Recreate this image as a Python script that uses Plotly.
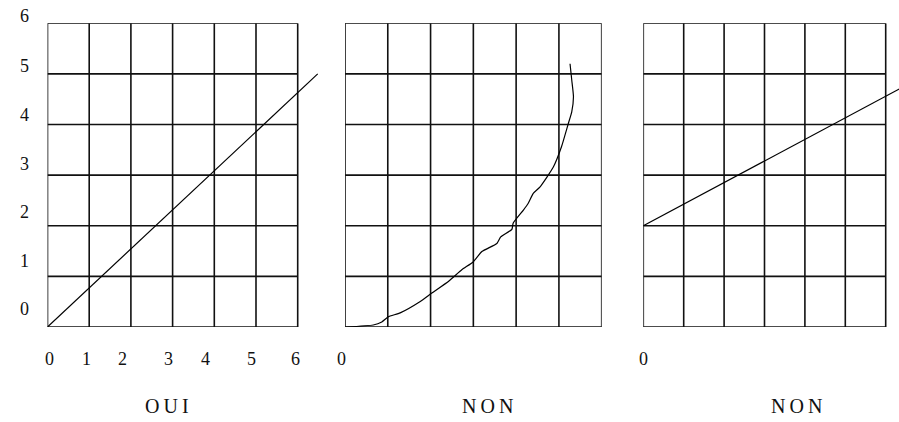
import plotly.graph_objects as go

# ---------------- data ----------------
grid_ticks = [0, 1, 2, 3, 4, 5, 6]

# panel 1 (OUI): straight line through origin
p1_x = [0, 6.48]
p1_y = [0, 5.0]

# panel 2 (NON): curved line
p2_x = [0.02, 0.66, 0.86, 1.01, 1.29, 1.75, 2.03, 2.43, 2.73, 3.00, 3.20, 3.55, 3.64,
        3.90, 3.93, 4.17, 4.28, 4.40, 4.56, 4.87, 5.06, 5.22, 5.30, 5.34, 5.30, 5.26]
p2_y = [0.00, 0.04, 0.10, 0.20, 0.28, 0.50, 0.67, 0.91, 1.13, 1.29, 1.49, 1.65, 1.78,
        1.93, 2.05, 2.31, 2.44, 2.64, 2.77, 3.16, 3.56, 4.02, 4.25, 4.55, 4.88, 5.20]

# panel 3 (NON): straight line with intercept 2
p3_x = [0, 6.4]
p3_y = [2.0, 4.73]

# tick labels
y_tick_text = ["0", "1", "2", "3", "4", "5", "6"]
y_tick_pos = [0.36, 1.30, 2.27, 3.22, 4.19, 5.16, 6.15]
x_tick_text = ["0", "1", "2", "3", "4", "5", "6"]
x_tick_pos = [0.04, 0.93, 1.81, 2.89, 3.78, 4.90, 5.94]
panel_titles = ["OUI", "NON", "NON"]

# ---------------- figure ----------------
W, H = 899, 422
fig = go.Figure()

def grid_trace(xa, ya):
    xs, ys = [], []
    lo, hi = grid_ticks[0], grid_ticks[-1]
    for t in grid_ticks:
        xs += [t, t, None]
        ys += [lo, hi, None]
        xs += [lo, hi, None]
        ys += [t, t, None]
    return go.Scatter(x=xs, y=ys, mode="lines", xaxis=xa, yaxis=ya,
                      line=dict(color="#111111", width=1.6),
                      hoverinfo="skip", showlegend=False)

curve_line = dict(color="#000000", width=1.2)
panels = [("x", "y", p1_x, p1_y, "linear"),
          ("x2", "y2", p2_x, p2_y, "spline"),
          ("x3", "y3", p3_x, p3_y, "linear")]
for xa, ya, xs, ys, shape in panels:
    fig.add_trace(grid_trace(xa, ya))
    ln = dict(curve_line)
    if shape == "spline":
        ln["shape"] = "spline"
        ln["smoothing"] = 0.5
    fig.add_trace(go.Scatter(x=xs, y=ys, mode="lines", xaxis=xa, yaxis=ya,
                             line=ln, hoverinfo="skip", showlegend=False))

ydom = [(H - 327) / H, (H - 23.3) / H]
yrange = [0, 6]
x1dom, x1range = [47.5 / W, (47.5 + 6.5 * 41.7) / W], [0, 6.5]
x2dom, x2range = [345 / W, 601.7 / W], [0, 6]
x3dom, x3range = [643.3 / W, 1.0], [0, (899 - 643.3) / 40.4]

ax_common = dict(visible=False, showgrid=False, zeroline=False, fixedrange=True)
fig.update_layout(
    width=W, height=H,
    margin=dict(l=0, r=0, t=0, b=0),
    paper_bgcolor="white", plot_bgcolor="white",
    showlegend=False,
    xaxis=dict(domain=x1dom, range=x1range, **ax_common),
    yaxis=dict(domain=ydom, range=yrange, anchor="x", **ax_common),
    xaxis2=dict(domain=x2dom, range=x2range, anchor="y2", **ax_common),
    yaxis2=dict(domain=ydom, range=yrange, anchor="x2", **ax_common),
    xaxis3=dict(domain=x3dom, range=x3range, anchor="y3", **ax_common),
    yaxis3=dict(domain=ydom, range=yrange, anchor="x3", **ax_common),
)

def to_paper(v, dom, rng):
    return dom[0] + (v - rng[0]) / (rng[1] - rng[0]) * (dom[1] - dom[0])

font = dict(family="Liberation Serif, Times New Roman, serif", size=18, color="#111111")
ann = []
for t, p in zip(y_tick_text, y_tick_pos):
    ann.append(dict(text=t, x=24 / W, xref="paper", y=to_paper(p, ydom, yrange), yref="paper",
                    showarrow=False, xanchor="center", yanchor="middle", font=font))
xlab_y = (H - 359) / H
for t, p in zip(x_tick_text, x_tick_pos):
    ann.append(dict(text=t, x=to_paper(p, x1dom, x1range), xref="paper", y=xlab_y, yref="paper",
                    showarrow=False, xanchor="center", yanchor="middle", font=font))
ann.append(dict(text="0", x=to_paper(-0.08, x2dom, x2range), xref="paper", y=xlab_y, yref="paper",
                showarrow=False, xanchor="center", yanchor="middle", font=font))
ann.append(dict(text="0", x=to_paper(0, x3dom, x3range), xref="paper", y=xlab_y, yref="paper",
                showarrow=False, xanchor="center", yanchor="middle", font=font))
title_y = (H - 406) / H
title_x = [167 / W, 487 / W, 796 / W]
tfont = dict(font)
tfont["size"] = 20
for t, x in zip(panel_titles, title_x):
    ann.append(dict(text="\u2009".join(t), x=x, xref="paper", y=title_y, yref="paper",
                    showarrow=False, xanchor="center", yanchor="middle", font=tfont))
fig.update_layout(annotations=ann)

fig.write_html("out.html", config={"displayModeBar": False},
               post_script="document.body.style.margin='0';")
